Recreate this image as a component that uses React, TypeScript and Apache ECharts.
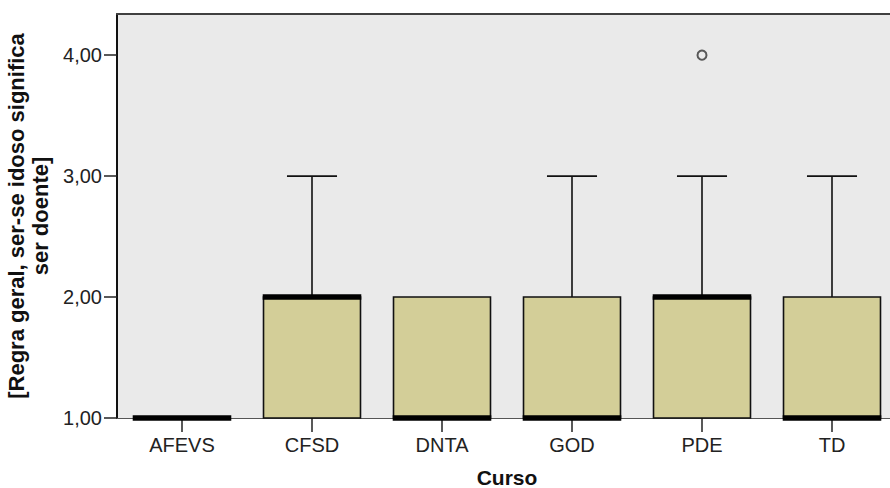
import React, { useEffect, useRef } from "react";
import * as echarts from "echarts";

const categories = ["AFEVS", "CFSD", "DNTA", "GOD", "PDE", "TD"];
const minValues = [1, 1, 1, 1, 1, 1];
const q1Values = [1, 1, 1, 1, 1, 1];
const medianValues = [1, 2, 1, 1, 2, 1];
const q3Values = [1, 2, 2, 2, 2, 2];
const maxValues = [1, 3, 2, 3, 3, 3];
const outliers: [number, number][] = [[4, 4]];
const yTicks = [1, 2, 3, 4];

const FONT = "'Liberation Sans', Arial, sans-serif";

export default function App() {
  const ref = useRef<HTMLDivElement>(null);
  useEffect(() => {
    if (!ref.current) return;
    const chart = echarts.init(ref.current, null, { renderer: "svg" });
    const boxData = categories.map((_, i) => [
      i,
      minValues[i],
      q1Values[i],
      medianValues[i],
      q3Values[i],
      maxValues[i],
    ]);
    const renderItem = (params: any, api: any) => {
      const idx = api.value(0);
      const mn = api.value(1);
      const q1 = api.value(2);
      const md = api.value(3);
      const q3 = api.value(4);
      const mx = api.value(5);
      const band = api.size([1, 0])[0];
      const boxW = band * 0.746;
      const capW = band * 0.385;
      const cx = api.coord([idx, q1])[0];
      const yq1 = api.coord([idx, q1])[1];
      const yq3 = api.coord([idx, q3])[1];
      const ymd = api.coord([idx, md])[1];
      const ymx = api.coord([idx, mx])[1];
      const ymn = api.coord([idx, mn])[1];
      const children: any[] = [];
      const lineStyle = { stroke: "#111", lineWidth: 1.6 };
      if (mx > q3) {
        children.push({
          type: "line",
          shape: { x1: cx, y1: yq3, x2: cx, y2: ymx },
          style: lineStyle,
        });
        children.push({
          type: "line",
          shape: { x1: cx - capW / 2, y1: ymx, x2: cx + capW / 2, y2: ymx },
          style: lineStyle,
        });
      }
      if (mn < q1) {
        children.push({
          type: "line",
          shape: { x1: cx, y1: yq1, x2: cx, y2: ymn },
          style: lineStyle,
        });
        children.push({
          type: "line",
          shape: { x1: cx - capW / 2, y1: ymn, x2: cx + capW / 2, y2: ymn },
          style: lineStyle,
        });
      }
      if (q3 > q1) {
        children.push({
          type: "rect",
          shape: { x: cx - boxW / 2, y: yq3, width: boxW, height: yq1 - yq3 },
          style: { fill: "#D3CE98", stroke: "#111", lineWidth: 1.6 },
        });
      }
      children.push({
        type: "rect",
        shape: { x: cx - boxW / 2 - 0.8, y: ymd - 2.75, width: boxW + 1.6, height: 5.5 },
        style: { fill: "#000" },
      });
      return { type: "group", children };
    };
    chart.setOption({
      animation: false,
      backgroundColor: "#ffffff",
      grid: {
        left: 117,
        right: -7,
        top: 14,
        bottom: 70,
        show: true,
        backgroundColor: "#EAEAEA",
        borderWidth: 0,
        containLabel: false,
        outerBoundsMode: "none",
      },
      xAxis: [
        {
          type: "category",
          data: categories,
          boundaryGap: true,
          position: "bottom",
          name: "Curso",
          nameLocation: "middle",
          nameGap: 49,
          nameTextStyle: {
            fontFamily: FONT,
            fontSize: 21,
            fontWeight: "bold",
            color: "#111",
            lineHeight: 20,
          },
          axisLine: { show: true, lineStyle: { color: "#555", width: 1 } },
          axisTick: {
            show: true,
            alignWithLabel: true,
            length: 14,
            lineStyle: { color: "#222", width: 1.5 },
          },
          axisLabel: {
            fontFamily: FONT,
            fontSize: 20,
            color: "#222",
            margin: 17,
          },
          splitLine: { show: false },
        },
        {
          type: "category",
          data: categories,
          position: "top",
          axisLine: { show: true, lineStyle: { color: "#404040", width: 2 } },
          axisTick: { show: false },
          axisLabel: { show: false },
          splitLine: { show: false },
        },
      ],
      yAxis: {
        type: "value",
        min: 1,
        max: 4.34,
        interval: 1,
        name: "[Regra geral, ser-se idoso significa\nser doente]",
        nameLocation: "middle",
        nameRotate: 90,
        nameGap: 63,
        nameTextStyle: {
          fontFamily: FONT,
          fontSize: 22,
          fontWeight: "bold",
          color: "#111",
          lineHeight: 24,
        },
        axisLine: { show: true, lineStyle: { color: "#111", width: 2 } },
        axisTick: {
          show: true,
          length: 13,
          customValues: yTicks,
          lineStyle: { color: "#222", width: 1.5 },
        },
        axisLabel: {
          fontFamily: FONT,
          fontSize: 20,
          color: "#222",
          margin: 15,
          customValues: yTicks,
          formatter: (v: number) => v.toFixed(2).replace(".", ","),
        },
        splitLine: { show: false },
      },
      series: [
        {
          type: "custom",
          renderItem,
          data: boxData,
          encode: { x: 0, y: [1, 2, 3, 4, 5] },
          z: 3,
        },
        {
          type: "scatter",
          data: outliers,
          symbol: "circle",
          symbolSize: 9,
          itemStyle: { color: "#EAEAEA", borderColor: "#333", borderWidth: 2 },
          z: 4,
        },
      ],
    });
    return () => chart.dispose();
  }, []);
  return (
    <div
      ref={ref}
      style={{ position: "fixed", left: 0, top: 0, width: 890, height: 488 }}
    />
  );
}
